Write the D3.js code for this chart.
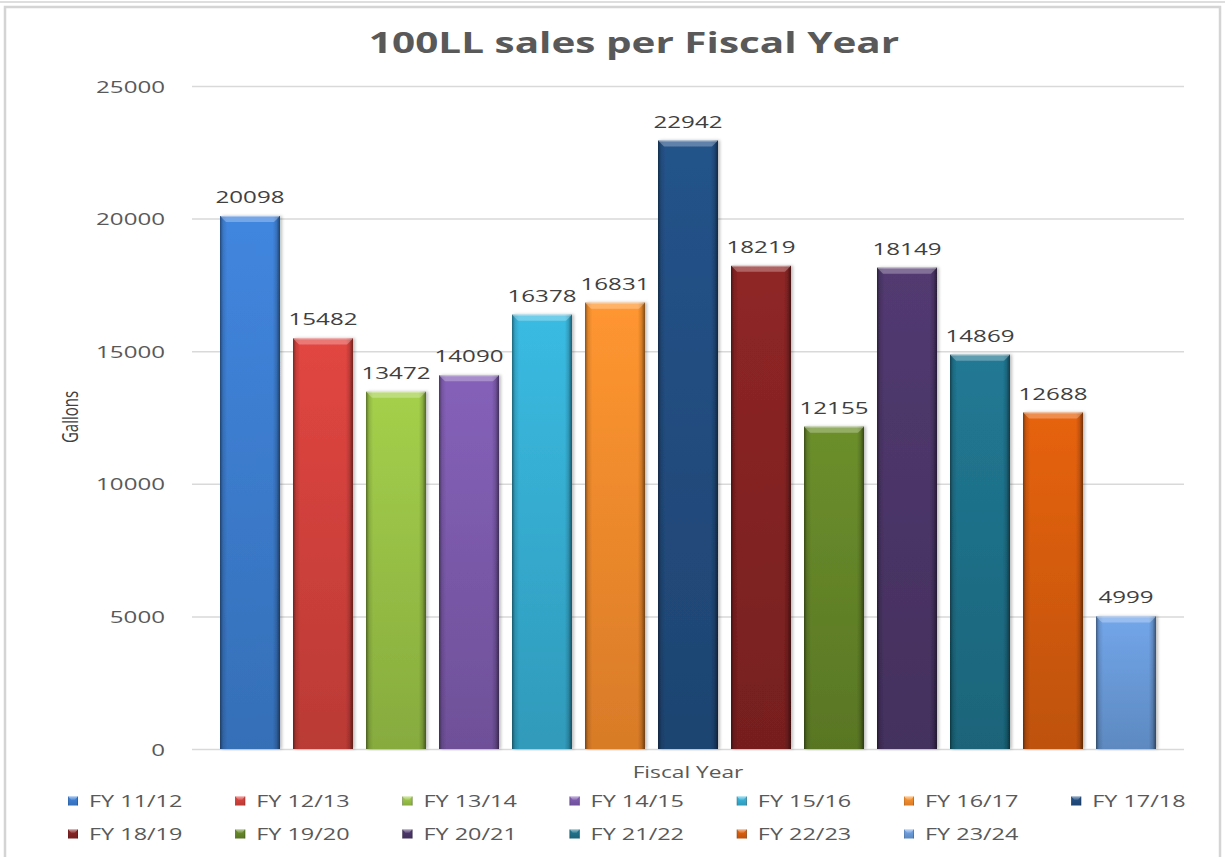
<!DOCTYPE html>
<html>
<head>
<meta charset="utf-8">
<script src="https://cdn.jsdelivr.net/npm/d3@7"></script>
<style>
  html, body { margin: 0; padding: 0; background: #ffffff; }
  svg { display: block; }
  text { font-family: "Open Sans", "Liberation Sans", sans-serif; }
</style>
</head>
<body>
<svg id="chart" width="1225" height="857"></svg>
<script>
// Fiscal years and 100LL gallons sold in each
const fiscalYears = ["FY 11/12", "FY 12/13", "FY 13/14", "FY 14/15", "FY 15/16", "FY 16/17", "FY 17/18",
                     "FY 18/19", "FY 19/20", "FY 20/21", "FY 21/22", "FY 22/23", "FY 23/24"];
const gallons = [20098, 15482, 13472, 14090, 16378, 16831, 22942, 18219, 12155, 18149, 14869, 12688, 4999];
const yTicks = [0, 5000, 10000, 15000, 20000, 25000];
const barColors = ["#3b7bcc", "#cf403b", "#96be45", "#7a59a9", "#35abcf", "#f0892c", "#214c7e",
                   "#832323", "#638328", "#4b3567", "#1e6f87", "#d35b0b", "#6898d6"];

const chartTitle = "100LL sales per Fiscal Year";
const yTitle = "Gallons";
const xTitle = "Fiscal Year";

const W = 1225, H = 857;
const sx = 1.42; // horizontal stretch applied to all lettering
const plot = { left: 192, right: 1184, top: 86, bottom: 749 };

const svg = d3.select("#chart");
const defs = svg.append("defs");

// frame
svg.append("line").attr("x1", 0).attr("x2", W).attr("y1", 2).attr("y2", 2)
  .attr("stroke", "#dedede").attr("stroke-width", 2);
svg.append("rect").attr("x", 5).attr("y", 7).attr("width", 1215).attr("height", H)
  .attr("fill", "#ffffff").attr("stroke", "#d4d4d4").attr("stroke-width", 2.5);

const x = d3.scaleBand()
  .domain(fiscalYears)
  .range([plot.left, plot.right])
  .paddingInner(13 / 73)
  .paddingOuter(0.3836);

const y = d3.scaleLinear()
  .domain([0, 25000])
  .range([plot.bottom, plot.top]);

// gridlines and tick labels
const yAxis = d3.axisLeft(y)
  .tickValues(yTicks)
  .tickFormat(d3.format("d"))
  .tickSize(-(plot.right - plot.left))
  .tickPadding(0);

const gy = svg.append("g")
  .attr("transform", `translate(${plot.left},0)`)
  .call(yAxis);
gy.select(".domain").remove();
gy.selectAll(".tick line").attr("stroke", "#d9d9d9").attr("stroke-width", 1.5);
gy.selectAll(".tick text")
  .attr("x", -27 / sx)
  .attr("dy", "0.36em")
  .attr("transform", `scale(${sx},1)`)
  .attr("fill", "#595959")
  .style("font-size", "17px")
  .style("font-family", "'Open Sans', sans-serif");

// gradients for each bar colour
function addGradients(id, color) {
  const c = d3.color(color);
  const v = defs.append("linearGradient").attr("id", "v" + id)
    .attr("x1", 0).attr("y1", 0).attr("x2", 0).attr("y2", 1);
  v.append("stop").attr("offset", "0%").attr("stop-color", c.brighter(0.25));
  v.append("stop").attr("offset", "100%").attr("stop-color", c.darker(0.3));
}
barColors.forEach((c, i) => addGradients(i, c));

const edge = defs.append("linearGradient").attr("id", "edgeShade")
  .attr("x1", 0).attr("y1", 0).attr("x2", 1).attr("y2", 0);
[["0%", 0.45], ["5%", 0.12], ["12%", 0], ["88%", 0], ["94%", 0.15], ["100%", 0.5]].forEach(([o, a]) =>
  edge.append("stop").attr("offset", o).attr("stop-color", "#000").attr("stop-opacity", a));

const shadow = defs.append("filter").attr("id", "barShadow")
  .attr("x", "-20%").attr("y", "-5%").attr("width", "140%").attr("height", "110%");
shadow.append("feDropShadow").attr("dx", 2).attr("dy", 0).attr("stdDeviation", 1.6)
  .attr("flood-color", "#000").attr("flood-opacity", 0.25);

// draws one bevelled bar or legend swatch
function bevelBar(g, i, bx, by, bw, bh, bevel) {
  g.append("rect").attr("x", bx).attr("y", by).attr("width", bw).attr("height", bh)
    .attr("fill", `url(#v${i})`);
  g.append("rect").attr("x", bx).attr("y", by).attr("width", bw).attr("height", bh)
    .attr("fill", "url(#edgeShade)");
  g.append("polygon")
    .attr("points", [[bx, by], [bx + bw, by], [bx + bw - bevel, by + bevel], [bx + bevel, by + bevel]].map(p => p.join(",")).join(" "))
    .attr("fill", "#ffffff").attr("fill-opacity", 0.28);
  g.append("line").attr("x1", bx + 1).attr("x2", bx + bw - 1).attr("y1", by + 0.5).attr("y2", by + 0.5)
    .attr("stroke", "#ffffff").attr("stroke-opacity", 0.35);
}

const bars = svg.append("g");
gallons.forEach((v, i) => {
  const g = bars.append("g").attr("filter", "url(#barShadow)");
  const bx = x(fiscalYears[i]), bw = x.bandwidth();
  bevelBar(g, i, bx, y(v), bw, y(0) - y(v), 6);
});

// value labels
svg.append("g").selectAll("text")
  .data(gallons)
  .join("text")
  .attr("transform", (d, i) => `translate(${x(fiscalYears[i]) + x.bandwidth() / 2},${y(d) - 13}) scale(${sx},1)`)
  .attr("text-anchor", "middle")
  .attr("fill", "#404040")
  .style("font-size", "17px")
  .text(d => d);

// title
svg.append("text")
  .attr("transform", `translate(634,53) scale(${sx},1)`)
  .attr("text-anchor", "middle")
  .attr("fill", "#595959")
  .style("font-size", "28.5px")
  .style("font-weight", "bold")
  .text(chartTitle);

// axis titles
svg.append("text")
  .attr("transform", `translate(78,417) scale(${sx},1) rotate(-90)`)
  .attr("text-anchor", "middle")
  .attr("fill", "#404040")
  .style("font-size", "15px")
  .text(yTitle);

svg.append("text")
  .attr("transform", `translate(688,778) scale(${sx},1)`)
  .attr("text-anchor", "middle")
  .attr("fill", "#595959")
  .style("font-size", "16px")
  .text(xTitle);

// legend, seven entries per row
const legend = svg.append("g");
fiscalYears.forEach((name, i) => {
  const col = i % 7, row = Math.floor(i / 7);
  const lx = 68 + col * 167.2, ly = 801 + row * 33;
  const g = legend.append("g");
  bevelBar(g, i, lx, ly - 4.5, 10, 9, 3);
  legend.append("text")
    .attr("transform", `translate(${lx + 21},${ly}) scale(${sx},1)`)
    .attr("dy", "0.36em")
    .attr("fill", "#595959")
    .style("font-size", "16.5px")
    .text(name);
});
</script>
</body>
</html>
